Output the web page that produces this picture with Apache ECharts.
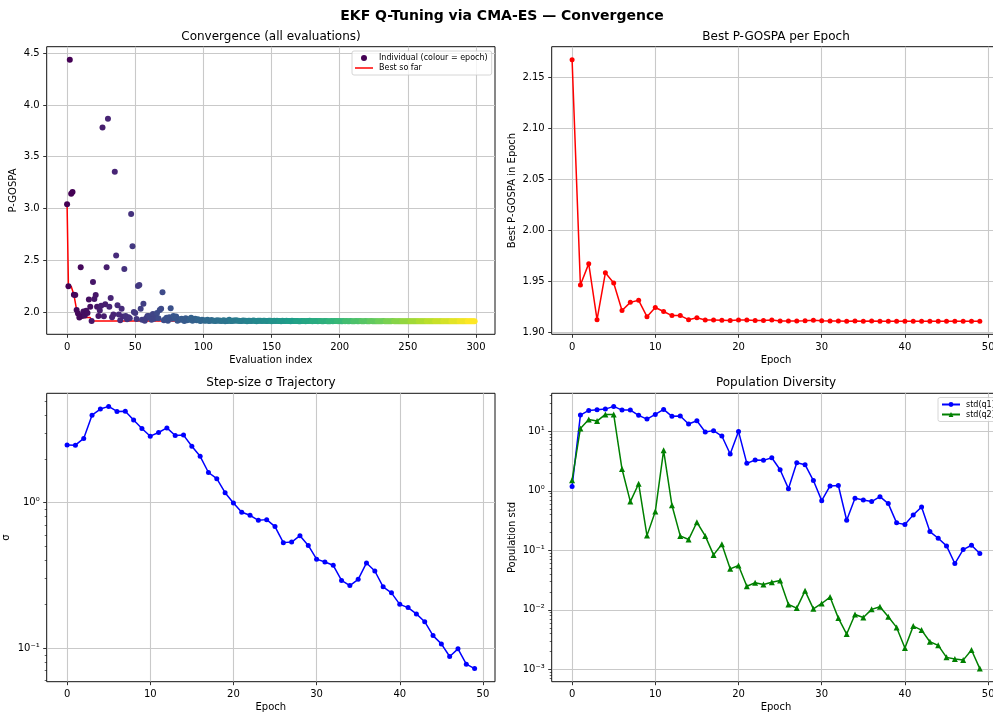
<!DOCTYPE html>
<html>
<head>
<meta charset="utf-8">
<title>EKF Q-Tuning via CMA-ES — Convergence</title>
<script src="https://cdn.jsdelivr.net/npm/echarts@6/dist/echarts.min.js"></script>
<style>
  html, body { margin: 0; padding: 0; background: #ffffff; }
  #chart { width: 993px; height: 714px; }
</style>
</head>
<body>
<div id="chart"></div>
<script>
// ---------------- data ----------------
const evalsPerEpoch = 6;

// P-GOSPA of every evaluated candidate, one row per CMA-ES epoch
const evalsByEpoch = [
  [3.040, 2.249, 4.436, 3.143, 3.159, 2.167],
  [2.165, 2.020, 1.985, 1.946, 2.433, 1.962],
  [2.005, 1.967, 2.012, 1.990, 2.120, 2.050],
  [1.912, 2.290, 2.125, 2.165, 2.050, 1.960],
  [2.015, 2.060, 3.783, 1.958, 2.074, 2.433],
  [3.867, 2.050, 2.136, 1.948, 1.975, 3.355],
  [2.545, 2.065, 1.975, 1.921, 2.030, 1.955],
  [2.414, 1.960, 1.929, 1.950, 1.940, 2.947],
  [2.635, 2.000, 1.990, 1.931, 2.250, 2.260],
  [2.030, 1.925, 2.080, 1.915, 1.940, 1.960],
  [1.960, 1.945, 1.924, 1.980, 1.935, 1.970],
  [1.990, 1.940, 2.020, 2.030, 2.190, 1.920],
  [1.930, 1.945, 1.916, 1.950, 2.036, 1.935],
  [1.960, 1.940, 1.955, 1.916, 1.930, 1.925],
  [1.935, 1.925, 1.912, 1.940, 1.920, 1.930],
  [1.925, 1.945, 1.914, 1.930, 1.935, 1.920],
  [1.930, 1.918, 1.9117, 1.925, 1.920, 1.915],
  [1.918, 1.925, 1.9116, 1.915, 1.922, 1.914],
  [1.916, 1.9115, 1.921, 1.914, 1.918, 1.913],
  [1.914, 1.919, 1.9113, 1.916, 1.913, 1.925],
  [1.913, 1.9118, 1.917, 1.915, 1.920, 1.914],
  [1.915, 1.913, 1.9117, 1.918, 1.914, 1.916],
  [1.9113, 1.914, 1.916, 1.913, 1.915, 1.917],
  [1.913, 1.9112, 1.915, 1.914, 1.916, 1.913],
  [1.914, 1.916, 1.9117, 1.913, 1.915, 1.914],
  [1.9108, 1.913, 1.914, 1.912, 1.915, 1.913],
  [1.912, 1.9108, 1.914, 1.913, 1.912, 1.914],
  [1.913, 1.912, 1.9108, 1.914, 1.912, 1.913],
  [1.912, 1.913, 1.9112, 1.9110, 1.913, 1.912],
  [1.912, 1.9114, 1.913, 1.912, 1.914, 1.912],
  [1.9110, 1.912, 1.913, 1.912, 1.9112, 1.913],
  [1.912, 1.911, 1.9108, 1.912, 1.913, 1.911],
  [1.911, 1.9108, 1.912, 1.911, 1.912, 1.913],
  [1.912, 1.911, 1.912, 1.9105, 1.911, 1.912],
  [1.911, 1.912, 1.9107, 1.911, 1.912, 1.911],
  [1.9106, 1.911, 1.912, 1.911, 1.911, 1.912],
  [1.911, 1.9107, 1.911, 1.912, 1.911, 1.911],
  [1.911, 1.912, 1.911, 1.9106, 1.911, 1.911],
  [1.911, 1.9106, 1.911, 1.911, 1.912, 1.911],
  [1.9106, 1.911, 1.911, 1.911, 1.911, 1.912],
  [1.911, 1.911, 1.9105, 1.911, 1.911, 1.911],
  [1.911, 1.9106, 1.911, 1.911, 1.911, 1.911],
  [1.911, 1.911, 1.911, 1.9105, 1.911, 1.911],
  [1.9105, 1.911, 1.911, 1.911, 1.911, 1.911],
  [1.911, 1.9105, 1.911, 1.911, 1.911, 1.911],
  [1.911, 1.911, 1.9105, 1.911, 1.911, 1.911],
  [1.911, 1.911, 1.911, 1.9105, 1.911, 1.911],
  [1.9105, 1.911, 1.911, 1.911, 1.911, 1.911],
  [1.911, 1.9105, 1.911, 1.911, 1.911, 1.911],
  [1.911, 1.911, 1.9105, 1.911, 1.911, 1.911]
];

// best P-GOSPA reached inside each epoch
const bestPerEpoch = [
  2.167, 1.946, 1.967, 1.912, 1.958, 1.948, 1.921, 1.929, 1.931, 1.915,
  1.924, 1.920, 1.916, 1.916, 1.912, 1.914, 1.9117, 1.9116, 1.9115, 1.9113,
  1.9118, 1.9117, 1.9113, 1.9112, 1.9117, 1.9108, 1.9108, 1.9108, 1.9110, 1.9114,
  1.9110, 1.9108, 1.9108, 1.9105, 1.9107, 1.9106, 1.9107, 1.9106, 1.9106, 1.9106,
  1.9105, 1.9106, 1.9105, 1.9105, 1.9105, 1.9105, 1.9105, 1.9105, 1.9105, 1.9105
];

// CMA-ES global step size per epoch
const sigma = [
  2.49, 2.48, 2.76, 3.99, 4.39, 4.58, 4.23, 4.25, 3.69, 3.23,
  2.86, 3.03, 3.26, 2.89, 2.91, 2.44, 2.08, 1.61, 1.46, 1.17,
  0.995, 0.858, 0.818, 0.756, 0.764, 0.684, 0.531, 0.536, 0.593, 0.508,
  0.409, 0.391, 0.371, 0.292, 0.269, 0.297, 0.385, 0.339, 0.264, 0.240,
  0.200, 0.190, 0.172, 0.152, 0.122, 0.107, 0.0877, 0.0989, 0.0776, 0.0724
];

// population standard deviation of each Q parameter
const stdQ1 = [
  1.19, 18.8, 22.5, 23.1, 23.7, 26.3, 22.8, 22.8, 18.6, 16.1,
  19.3, 23.4, 17.9, 18.1, 13.3, 15.1, 9.75, 10.3, 8.36, 4.17,
  10.0, 2.90, 3.31, 3.26, 3.61, 2.27, 1.09, 2.98, 2.76, 1.49,
  0.685, 1.21, 1.23, 0.321, 0.752, 0.705, 0.661, 0.800, 0.611, 0.290,
  0.272, 0.395, 0.537, 0.207, 0.160, 0.119, 0.0601, 0.103, 0.122, 0.0885
];
const stdQ2 = [
  1.51, 11.2, 15.9, 14.9, 19.3, 19.3, 2.33, 0.661, 1.32, 0.177,
  0.449, 4.80, 0.573, 0.175, 0.152, 0.297, 0.175, 0.0839, 0.127, 0.0489,
  0.0556, 0.0250, 0.0285, 0.0267, 0.0292, 0.0312, 0.0123, 0.0107, 0.0209, 0.0104,
  0.0128, 0.0164, 0.00727, 0.00392, 0.00838, 0.00746, 0.0102, 0.0113, 0.00766, 0.00507,
  0.00228, 0.00533, 0.00457, 0.00291, 0.00253, 0.00159, 0.00149, 0.00143, 0.00211, 0.00103
];

// tick positions
const evalTicks = [0, 50, 100, 150, 200, 250, 300];
const pgospaTicks = [2.0, 2.5, 3.0, 3.5, 4.0, 4.5];
const bestTicks = [1.90, 1.95, 2.00, 2.05, 2.10, 2.15];
const epochTicks = [0, 10, 20, 30, 40, 50];
const sigmaTicks = [0.1, 1];
const stdTicks = [0.001, 0.01, 0.1, 1, 10];

const viridis = ['#440154', '#482878', '#3e4a89', '#31688e', '#26828e',
                 '#1f9e89', '#35b779', '#6ece58', '#b5de2b', '#fde725'];

// ---------------- helpers ----------------
const FONT = 'DejaVu Sans';
const INK = '#000000';
const GRID_LINE = '#c9c9c9';

const evals = evalsByEpoch.flat();
const nEpochs = evalsByEpoch.length;
const epochs = bestPerEpoch.map((_, i) => i);

// running minimum over all evaluations
const bestSoFar = [];
evals.forEach((v, i) => bestSoFar.push(i === 0 ? v : Math.min(v, bestSoFar[i - 1])));

// 5 % padding like an autoscaled axis
function padLin(vals, f = 0.05) {
  const lo = Math.min(...vals), hi = Math.max(...vals), d = (hi - lo) * f;
  return [lo - d, hi + d];
}
function padLog(vals, f = 0.05) {
  const lo = Math.log10(Math.min(...vals)), hi = Math.log10(Math.max(...vals));
  const d = (hi - lo) * f;
  return [Math.pow(10, lo - d), Math.pow(10, hi + d)];
}
function minorLogTicks(range) {
  const out = [];
  for (let k = Math.floor(Math.log10(range[0])); k <= Math.ceil(Math.log10(range[1])); k++) {
    for (let m = 2; m <= 9; m++) {
      const v = m * Math.pow(10, k);
      if (v >= range[0] && v <= range[1]) out.push(v);
    }
  }
  return out;
}
const SUP = { '-': '\u207B', '0': '\u2070', '1': '\u00B9', '2': '\u00B2', '3': '\u00B3',
  '4': '\u2074', '5': '\u2075', '6': '\u2076', '7': '\u2077', '8': '\u2078', '9': '\u2079' };
function powLabel(v) {
  const e = String(Math.round(Math.log10(v)));
  return '10' + e.split('').map(c => SUP[c]).join('');
}

function axis(opt) {
  const ticks = opt.ticks;
  const isX = opt.dir === 'x';
  return {
    type: opt.type || 'value',
    gridIndex: opt.grid,
    min: opt.range[0],
    max: opt.range[1],
    name: opt.name,
    nameLocation: 'middle',
    nameGap: opt.nameGap,
    nameTextStyle: { fontFamily: FONT, fontSize: 10, color: INK },
    axisLine: { show: false, onZero: false },
    axisTick: { show: true, inside: false, length: 3.5, customValues: ticks,
                lineStyle: { color: INK, width: 0.8 } },
    axisLabel: { show: true, customValues: ticks, margin: isX ? 8 : 7, fontFamily: FONT,
                 fontSize: 10, color: INK, formatter: opt.fmt },
    splitLine: { show: true, lineStyle: { color: GRID_LINE, width: 1.1 } },
    minorTick: { show: false },
    minorSplitLine: { show: false }
  };
}
function minorAxis(grid, range) {
  return {
    type: 'log', gridIndex: grid, min: range[0], max: range[1], position: 'left',
    axisLine: { show: false, onZero: false },
    axisLabel: { show: false },
    splitLine: { show: false },
    axisTick: { show: true, inside: false, length: 2, customValues: minorLogTicks(range),
                lineStyle: { color: INK, width: 0.6 } }
  };
}

const evalRange = padLin([0, evals.length - 1]);
const pgRange = padLin(evals);
const epochRange = padLin([0, nEpochs - 1]);
const bestRange = padLin(bestPerEpoch);
const sigmaRange = padLog(sigma);
const stdRange = padLog(stdQ1.concat(stdQ2));

// plot boxes
const G = [
  { left: 46.7, top: 46.7, width: 448.3, height: 287.6 },
  { left: 551.7, top: 46.7, width: 448.5, height: 287.6 },
  { left: 46.7, top: 393.3, width: 448.3, height: 288.4 },
  { left: 551.7, top: 393.3, width: 448.5, height: 288.4 }
];

const chart = echarts.init(document.getElementById('chart'), null, { renderer: 'canvas' });

const titleText = (text, x, y, size, weight) => ({
  type: 'text', x: x, y: y, silent: true,
  style: { text: text, align: 'center', verticalAlign: 'middle', fill: INK,
           font: (weight || 'normal') + ' ' + size + 'px "' + FONT + '"' }
});

const legendBase = {
  orient: 'vertical', padding: [3, 4, 3, 3], itemGap: 2,
  itemWidth: 18, itemHeight: 6,
  backgroundColor: 'rgba(255,255,255,0.8)', borderColor: '#cccccc', borderWidth: 0.8,
  borderRadius: 2,
  textStyle: { fontFamily: FONT, fontSize: 8, color: INK, padding: [0, 0, 0, 1] },
  selectedMode: false
};
// plain line handle (no marker) for the running-best curve
const LINE_ICON = 'path://M0,0 L36,0 L36,3 L0,3 Z';

chart.setOption({
  animation: false,
  backgroundColor: '#ffffff',
  textStyle: { fontFamily: FONT },
  grid: G.map(g => Object.assign({ show: true, borderColor: '#111111', borderWidth: 1,
    backgroundColor: 'transparent', containLabel: false, outerBoundsMode: 'none' }, g)),
  xAxis: [
    axis({ dir: 'x', grid: 0, range: evalRange, ticks: evalTicks, name: 'Evaluation index', nameGap: 21,
           fmt: v => String(Math.round(v)) }),
    axis({ dir: 'x', grid: 1, range: epochRange, ticks: epochTicks, name: 'Epoch', nameGap: 21,
           fmt: v => String(Math.round(v)) }),
    axis({ dir: 'x', grid: 2, range: epochRange, ticks: epochTicks, name: 'Epoch', nameGap: 21,
           fmt: v => String(Math.round(v)) }),
    axis({ dir: 'x', grid: 3, range: epochRange, ticks: epochTicks, name: 'Epoch', nameGap: 21,
           fmt: v => String(Math.round(v)) })
  ],
  yAxis: [
    axis({ grid: 0, range: pgRange, ticks: pgospaTicks, name: 'P-GOSPA', nameGap: 28,
           fmt: v => v.toFixed(1) }),
    axis({ grid: 1, range: bestRange, ticks: bestTicks, name: 'Best P-GOSPA in Epoch', nameGap: 34,
           fmt: v => v.toFixed(2) }),
    axis({ grid: 2, type: 'log', range: sigmaRange, ticks: sigmaTicks, name: '\u03C3', nameGap: 35,
           fmt: powLabel }),
    axis({ grid: 3, type: 'log', range: stdRange, ticks: stdTicks, name: 'Population std', nameGap: 34,
           fmt: powLabel }),
    minorAxis(2, sigmaRange),
    minorAxis(3, stdRange)
  ],
  visualMap: {
    type: 'continuous', show: false, seriesIndex: 1, dimension: 2,
    min: 0, max: nEpochs - 1, inRange: { color: viridis }
  },
  legend: [
    Object.assign({}, legendBase, {
      data: ['Individual (colour = epoch)', { name: 'Best so far', icon: LINE_ICON }],
      left: 352, top: 51
    }),
    Object.assign({}, legendBase, {
      data: ['std(q1)', 'std(q2)'],
      left: 938, top: 397.5
    })
  ],
  series: [
    {
      name: 'Best so far', type: 'line', xAxisIndex: 0, yAxisIndex: 0,
      data: bestSoFar.map((v, i) => [i, v]),
      showSymbol: false, symbol: 'none', z: 2,
      itemStyle: { color: '#ff0000' },
      lineStyle: { color: '#ff0000', width: 1.5 }
    },
    {
      name: 'Individual (colour = epoch)', type: 'scatter', xAxisIndex: 0, yAxisIndex: 0,
      data: evals.map((v, i) => [i, v, Math.floor(i / evalsPerEpoch)]),
      symbol: 'circle', symbolSize: 6, z: 3,
      itemStyle: { color: viridis[0], opacity: 1 }
    },
    {
      name: 'Best per epoch', type: 'line', xAxisIndex: 1, yAxisIndex: 1,
      data: epochs.map(e => [e, bestPerEpoch[e]]),
      symbol: 'circle', symbolSize: 5, showSymbol: true,
      itemStyle: { color: '#ff0000', borderWidth: 0 },
      lineStyle: { color: '#ff0000', width: 1.5 }
    },
    {
      name: 'sigma', type: 'line', xAxisIndex: 2, yAxisIndex: 2,
      data: epochs.map(e => [e, sigma[e]]),
      symbol: 'circle', symbolSize: 5, showSymbol: true,
      itemStyle: { color: '#0000ff', borderWidth: 0 },
      lineStyle: { color: '#0000ff', width: 1.5 }
    },
    {
      name: 'std(q1)', type: 'line', xAxisIndex: 3, yAxisIndex: 3,
      data: epochs.map(e => [e, stdQ1[e]]),
      symbol: 'circle', symbolSize: 5, showSymbol: true,
      itemStyle: { color: '#0000ff', borderWidth: 0 },
      lineStyle: { color: '#0000ff', width: 1.5 }
    },
    {
      name: 'std(q2)', type: 'line', xAxisIndex: 3, yAxisIndex: 3,
      data: epochs.map(e => [e, stdQ2[e]]),
      symbol: 'triangle', symbolSize: 6, showSymbol: true,
      itemStyle: { color: '#008000', borderWidth: 0 },
      lineStyle: { color: '#008000', width: 1.5 }
    }
  ],
  graphic: [
    titleText('EKF Q-Tuning via CMA-ES \u2014 Convergence', 502, 16, 14, 'bold'),
    titleText('Convergence (all evaluations)', 271, 36.7, 12),
    titleText('Best P-GOSPA per Epoch', 776, 36.7, 12),
    titleText('Step-size \u03C3 Trajectory', 271, 383.3, 12),
    titleText('Population Diversity', 776, 383.3, 12)
  ]
});
</script>
</body>
</html>
